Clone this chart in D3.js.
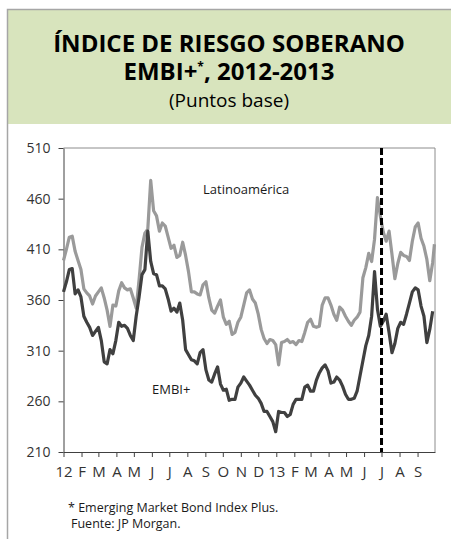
<!DOCTYPE html>
<html>
<head>
<meta charset="utf-8">
<script src="https://cdn.jsdelivr.net/npm/d3@7"></script>
<style>
  body { margin: 0; background: white; }
  text { font-family: "Open Sans", sans-serif; fill: #1a1a1a; }
</style>
</head>
<body>
<svg width="451" height="539"></svg>
<script>
// 5-day readings, Jan 2012 - Sep 2013 (puntos base)
const dates = [
  "2012-01-01","2012-01-06","2012-01-11","2012-01-16","2012-01-21","2012-01-26","2012-01-31",
  "2012-02-05","2012-02-10","2012-02-15","2012-02-20","2012-02-25",
  "2012-03-01","2012-03-06","2012-03-11","2012-03-16","2012-03-21","2012-03-26","2012-03-31",
  "2012-04-05","2012-04-10","2012-04-15","2012-04-20","2012-04-25","2012-04-30",
  "2012-05-05","2012-05-10","2012-05-15","2012-05-20","2012-05-25","2012-05-30",
  "2012-06-04","2012-06-09","2012-06-14","2012-06-19","2012-06-24","2012-06-29",
  "2012-07-04","2012-07-09","2012-07-14","2012-07-19","2012-07-24","2012-07-29",
  "2012-08-03","2012-08-08","2012-08-13","2012-08-18","2012-08-23","2012-08-28",
  "2012-09-02","2012-09-07","2012-09-12","2012-09-17","2012-09-22","2012-09-27",
  "2012-10-02","2012-10-07","2012-10-12","2012-10-17","2012-10-22","2012-10-27",
  "2012-11-01","2012-11-06","2012-11-11","2012-11-16","2012-11-21","2012-11-26",
  "2012-12-01","2012-12-06","2012-12-11","2012-12-16","2012-12-21","2012-12-26","2012-12-31",
  "2013-01-05","2013-01-10","2013-01-15","2013-01-20","2013-01-25","2013-01-30",
  "2013-02-04","2013-02-09","2013-02-14","2013-02-19","2013-02-24",
  "2013-03-01","2013-03-06","2013-03-11","2013-03-16","2013-03-21","2013-03-26","2013-03-31",
  "2013-04-05","2013-04-10","2013-04-15","2013-04-20","2013-04-25","2013-04-30",
  "2013-05-05","2013-05-10","2013-05-15","2013-05-20","2013-05-25","2013-05-30",
  "2013-06-04","2013-06-09","2013-06-14","2013-06-19","2013-06-24","2013-06-29",
  "2013-07-04","2013-07-09","2013-07-14","2013-07-19","2013-07-24","2013-07-29",
  "2013-08-03","2013-08-08","2013-08-13","2013-08-18","2013-08-23","2013-08-28",
  "2013-09-02","2013-09-07","2013-09-12","2013-09-17","2013-09-22","2013-09-27","2013-09-30"
];
const latam = [
  399,410,422,423,408,399,390, 371,367,364,356,364,
  368,372,362,350,334,355,354, 369,377,372,370,371,362,
  352,380,412,426,430,478, 448,443,428,436,433,422,
  411,414,402,404,417,404, 388,368,368,366,365,375,
  378,362,350,347,354,360, 343,336,339,326,328,338,
  343,355,367,370,361,357, 346,331,322,317,321,320,316,
  296,318,319,321,318,319, 316,320,319,328,338,
  341,334,333,334,355,362,362, 355,346,340,353,350,344,
  339,335,340,343,348,382, 392,406,398,420,461,443,
  427,418,428,405,381,396, 407,404,403,399,418,432,
  436,421,413,400,379,397,415
];
const embi = [
  368,378,390,391,366,370,363, 344,338,333,325,329,
  333,320,299,297,311,307,320, 338,334,335,332,325,320,
  344,363,385,390,428,398, 386,385,374,374,371,361,
  349,352,348,357,340,311, 306,301,300,297,308,311,
  291,281,279,287,294,277, 271,272,261,262,262,274,
  278,284,280,276,271,266, 263,258,250,250,245,240,230,
  250,249,249,245,247,257, 262,262,262,274,276,
  270,270,281,288,293,296, 290,278,279,284,281,275,
  267,262,262,263,270,285, 300,315,325,344,388,351,
  334,339,346,328,308,317, 332,338,336,346,357,368,
  372,370,354,344,318,331,349
];
const yTicks = [210, 260, 310, 360, 410, 460, 510];
const monthTicks = [
  "2012-01-01","2012-02-01","2012-03-01","2012-04-01","2012-05-01","2012-06-01","2012-07-01",
  "2012-08-01","2012-09-01","2012-10-01","2012-11-01","2012-12-01","2013-01-01","2013-02-01",
  "2013-03-01","2013-04-01","2013-05-01","2013-06-01","2013-07-01","2013-08-01","2013-09-01"
];
const monthLabels = ["12","F","M","A","M","J","J","A","S","O","N","D","13","F","M","A","M","J","J","A","S"];
const cutDate = "2013-07-01";

const parse = d3.timeParse("%Y-%m-%d");
const svg = d3.select("svg");

// marco exterior y cabecera verde
svg.append("rect").attr("x", 7).attr("y", 9).attr("width", 446).attr("height", 115)
  .attr("fill", "#d8e4bd");
svg.append("path").attr("d", "M7.5,539V9.5H451")
  .attr("fill", "none").attr("stroke", "#a6a6a6").attr("stroke-width", 1.5);

svg.append("text").attr("x", 229).attr("y", 52).attr("text-anchor", "middle")
  .style("font-weight", 700).style("font-size", "24px").style("fill", "#000")
  .text("ÍNDICE DE RIESGO SOBERANO");
const t2 = svg.append("text").attr("x", 229).attr("y", 80).attr("text-anchor", "middle")
  .style("font-weight", 700).style("font-size", "24px").style("fill", "#000");
t2.append("tspan").text("EMBI+");
t2.append("tspan").attr("dy", -9).style("font-size", "12px").text("*");
t2.append("tspan").attr("dy", 9).text(", 2012-2013");
svg.append("text").attr("x", 229).attr("y", 107).attr("text-anchor", "middle")
  .style("font-size", "19px").style("fill", "#000")
  .text("(Puntos base)");

const x = d3.scaleTime()
  .domain([parse("2012-01-01"), parse("2013-10-01")])
  .range([63.5, 435]);
const y = d3.scaleLinear().domain([210, 510]).range([452, 148]);

// marco del área de gráfica
svg.append("path").attr("d", `M${x.range()[0]},${y(510)}H${x.range()[1]}V${y(210)}`)
  .attr("fill", "none").attr("stroke", "#8c8c8c").attr("stroke-width", 1);

const yAxis = svg.append("g").attr("transform", `translate(${x.range()[0]},0)`)
  .call(d3.axisLeft(y).tickValues(yTicks).tickSize(5).tickSizeOuter(0).tickPadding(8));
const xAxis = svg.append("g").attr("transform", `translate(0,${y(210)})`)
  .call(d3.axisBottom(x).tickValues(monthTicks.map(parse))
    .tickFormat((d, i) => monthLabels[i]).tickSize(5).tickSizeOuter(0).tickPadding(9));
[yAxis, xAxis].forEach(g => {
  g.selectAll("path, line").attr("stroke", "#404040");
  g.selectAll("text").style("font-size", "14px").style("fill", "#333")
    .style("font-family", "'Open Sans', sans-serif");
});
xAxis.selectAll("text").style("font-size", "15px");

const line = d3.line().x((d, i) => x(parse(dates[i]))).y(d => y(d));
svg.append("path").datum(latam).attr("d", line)
  .attr("fill", "none").attr("stroke", "#9a9a9a").attr("stroke-width", 3.2)
  .attr("stroke-linejoin", "round");
svg.append("path").datum(embi).attr("d", line)
  .attr("fill", "none").attr("stroke", "#404040").attr("stroke-width", 3.2)
  .attr("stroke-linejoin", "round");

svg.append("line")
  .attr("x1", x(parse(cutDate))).attr("x2", x(parse(cutDate)))
  .attr("y1", y(510)).attr("y2", y(210))
  .attr("stroke", "#000").attr("stroke-width", 3).attr("stroke-dasharray", "7,3");

svg.append("text").attr("x", 203).attr("y", 194).style("font-size", "13px").text("Latinoamérica");
svg.append("text").attr("x", 152).attr("y", 394).style("font-size", "13px").text("EMBI+");

svg.append("text").attr("x", 68).attr("y", 512).style("font-size", "12.5px")
  .text("* Emerging Market Bond Index Plus.");
svg.append("text").attr("x", 71).attr("y", 528).style("font-size", "12.5px")
  .text("Fuente: JP Morgan.");
</script>
</body>
</html>
